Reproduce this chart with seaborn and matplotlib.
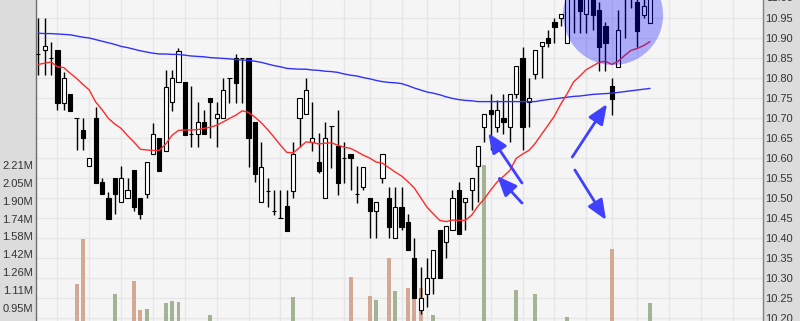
import numpy as np
import matplotlib
matplotlib.use("Agg")
import matplotlib.pyplot as plt
import matplotlib.transforms as mtransforms
from matplotlib.collections import LineCollection
from matplotlib.patches import Ellipse
import seaborn as sns

# ---------------- data ----------------
opens = [10.86, 10.869, 10.849, 10.87, 10.738, 10.759, 10.699, 10.67, 10.58, 10.699,
         10.539, 10.499, 10.549, 10.489, 10.499, 10.57, 10.499, 10.509, 10.61, 10.649,
         10.618, 10.739, 10.789, 10.791, 10.659, 10.659, 10.689, 10.749, 10.699, 10.699,
         10.799, 10.849, 10.849, 10.849, 10.689, 10.489, 10.518, 10.468, 10.449, 10.481,
         10.518, 10.699, 10.709, 10.64, 10.591, 10.499, 10.68, 10.63, 10.599, 10.61,
         10.509, 10.528, 10.499, 10.468, 10.549, 10.499, 10.399, 10.478, 10.441, 10.349,
         10.219, 10.259, 10.299, 10.42, 10.389, 10.42, 10.52, 10.489, 10.52, 10.581,
         10.678, 10.72, 10.678, 10.701, 10.678, 10.759, 10.849, 10.739, 10.81, 10.88,
         10.899, 10.939, 10.949, 10.888, 11.01, 11.01, 10.959, 11.01, 10.97, 10.93,
         10.78, 10.828, 11.01, 11.01, 10.991, 10.957, 10.938]
highs = [10.949, 10.949, 10.891, 10.87, 10.816, 10.759, 10.699, 10.699, 10.599, 10.728,
         10.55, 10.516, 10.549, 10.58, 10.549, 10.57, 10.499, 10.589, 10.688, 10.649,
         10.82, 10.82, 10.875, 10.791, 10.78, 10.741, 10.72, 10.749, 10.741, 10.799,
         10.799, 10.86, 10.849, 10.849, 10.689, 10.641, 10.549, 10.52, 10.52, 10.52,
         10.64, 10.749, 10.799, 10.739, 10.662, 10.689, 10.68, 10.72, 10.639, 10.61,
         10.58, 10.578, 10.499, 10.489, 10.609, 10.528, 10.528, 10.528, 10.46, 10.399,
         10.328, 10.349, 10.37, 10.42, 10.43, 10.52, 10.539, 10.499, 10.549, 10.63,
         10.709, 10.76, 10.745, 10.76, 10.76, 10.83, 10.878, 10.799, 10.87, 10.889,
         10.92, 10.949, 10.959, 11.0, 11.04, 11.02, 11.02, 11.02, 10.99, 10.94,
         10.799, 10.97, 11.04, 11.04, 11.0, 11.0, 11.02]
lows = [10.807, 10.807, 10.807, 10.72, 10.72, 10.718, 10.62, 10.62, 10.58, 10.538,
        10.509, 10.448, 10.459, 10.489, 10.499, 10.467, 10.448, 10.499, 10.61, 10.568,
        10.618, 10.718, 10.789, 10.657, 10.628, 10.628, 10.659, 10.649, 10.628, 10.699,
        10.737, 10.738, 10.737, 10.578, 10.54, 10.489, 10.478, 10.457, 10.449, 10.418,
        10.499, 10.628, 10.709, 10.617, 10.562, 10.499, 10.574, 10.507, 10.538, 10.52,
        10.487, 10.52, 10.399, 10.399, 10.538, 10.399, 10.399, 10.42, 10.37, 10.249,
        10.21, 10.228, 10.259, 10.299, 10.349, 10.42, 10.409, 10.42, 10.47, 10.489,
        10.641, 10.62, 10.666, 10.659, 10.639, 10.75, 10.62, 10.678, 10.797, 10.799,
        10.878, 10.888, 10.93, 10.888, 10.912, 10.912, 10.912, 10.92, 10.818, 10.818,
        10.707, 10.828, 10.899, 10.975, 10.878, 10.95, 10.938]
closes = [10.86, 10.879, 10.849, 10.738, 10.799, 10.718, 10.699, 10.649, 10.599, 10.538,
          10.509, 10.448, 10.509, 10.549, 10.519, 10.478, 10.459, 10.589, 10.659, 10.568,
          10.778, 10.799, 10.868, 10.657, 10.659, 10.689, 10.659, 10.739, 10.709, 10.77,
          10.799, 10.788, 10.849, 10.649, 10.559, 10.578, 10.518, 10.468, 10.449, 10.418,
          10.609, 10.749, 10.77, 10.649, 10.568, 10.649, 10.68, 10.538, 10.599, 10.599,
          10.509, 10.578, 10.468, 10.489, 10.609, 10.428, 10.478, 10.428, 10.37, 10.249,
          10.249, 10.299, 10.37, 10.299, 10.43, 10.499, 10.409, 10.499, 10.549, 10.63,
          10.709, 10.709, 10.72, 10.689, 10.76, 10.83, 10.678, 10.749, 10.87, 10.889,
          10.888, 10.928, 10.959, 11.0, 11.03, 10.968, 11.01, 10.957, 10.878, 10.888,
          10.747, 10.92, 11.03, 11.03, 10.918, 10.98, 11.01]
# volume in millions (0.70 = below the visible part of the panel)
volumes = [0.70, 0.70, 0.70, 0.70, 0.70, 0.70, 1.160, 1.558, 0.70, 0.70,
           0.70, 0.70, 1.072, 0.70, 0.70, 1.187, 0.930, 0.939, 0.70, 0.70,
           0.992, 1.010, 1.001, 0.70, 0.70, 0.70, 0.70, 0.886, 0.70, 0.70,
           0.70, 0.70, 0.70, 0.70, 0.70, 0.70, 0.70, 0.70, 0.70, 0.70,
           1.045, 0.70, 0.70, 0.70, 0.70, 0.70, 0.70, 0.70, 0.70, 1.222,
           0.70, 0.70, 1.054, 1.019, 0.70, 1.390, 1.098, 0.70, 1.127, 1.127,
           1.127, 0.70, 0.886, 0.70, 0.70, 0.70, 0.70, 0.70, 0.70, 0.70,
           2.211, 0.70, 0.70, 0.70, 0.70, 1.107, 0.70, 0.70, 1.072, 0.70,
           0.70, 0.70, 0.70, 0.871, 0.70, 0.70, 0.70, 0.70, 0.70, 0.70,
           1.467, 0.70, 0.70, 0.70, 0.70, 0.70, 0.990]
ma_short = [10.834, 10.837, 10.84, 10.828, 10.826, 10.812, 10.799, 10.784, 10.77, 10.74,
            10.721, 10.699, 10.685, 10.674, 10.656, 10.64, 10.622, 10.62, 10.619, 10.619,
            10.635, 10.657, 10.669, 10.67, 10.67, 10.671, 10.674, 10.677, 10.682, 10.69,
            10.699, 10.707, 10.718, 10.714, 10.702, 10.688, 10.671, 10.652, 10.632, 10.614,
            10.613, 10.626, 10.64, 10.639, 10.635, 10.637, 10.638, 10.632, 10.627, 10.624,
            10.616, 10.607, 10.6, 10.59, 10.587, 10.576, 10.565, 10.555, 10.541, 10.525,
            10.501, 10.477, 10.46, 10.444, 10.441, 10.445, 10.444, 10.444, 10.457, 10.48,
            10.498, 10.52, 10.54, 10.554, 10.569, 10.599, 10.61, 10.619, 10.637, 10.66,
            10.682, 10.705, 10.735, 10.761, 10.79, 10.805, 10.821, 10.83, 10.839, 10.842,
            10.834, 10.842, 10.856, 10.869, 10.874, 10.881, 10.891]
ma_long = [10.912, 10.911, 10.911, 10.91, 10.909, 10.908, 10.905, 10.902, 10.9, 10.896,
           10.892, 10.888, 10.884, 10.879, 10.876, 10.872, 10.868, 10.865, 10.862, 10.86,
           10.86, 10.859, 10.859, 10.857, 10.855, 10.854, 10.853, 10.851, 10.85, 10.849,
           10.848, 10.846, 10.845, 10.844, 10.842, 10.839, 10.835, 10.831, 10.828, 10.824,
           10.823, 10.822, 10.822, 10.82, 10.819, 10.817, 10.816, 10.814, 10.81, 10.807,
           10.805, 10.801, 10.798, 10.794, 10.791, 10.789, 10.788, 10.786, 10.781, 10.775,
           10.77, 10.765, 10.762, 10.758, 10.753, 10.749, 10.746, 10.744, 10.743, 10.741,
           10.741, 10.741, 10.741, 10.741, 10.741, 10.741, 10.741, 10.741, 10.741, 10.744,
           10.746, 10.748, 10.75, 10.752, 10.754, 10.755, 10.757, 10.759, 10.76, 10.761,
           10.762, 10.764, 10.766, 10.768, 10.77, 10.772, 10.774]
week_starts = [3, 8, 13, 18, 23, 28, 33, 38, 43, 48, 52, 57, 61, 66, 71, 76, 81, 86,
               90, 94, 99, 104, 109]
price_ticks = [10.20, 10.25, 10.30, 10.35, 10.40, 10.45, 10.50, 10.55, 10.60, 10.65,
               10.70, 10.75, 10.80, 10.85, 10.90, 10.95]
top_price_label = 11.00
vol_tick_values = [0.948, 1.106, 1.264, 1.422, 1.580, 1.737, 1.896, 2.053, 2.211]
vol_tick_labels = ["0.95M", "1.11M", "1.26M", "1.42M", "1.58M", "1.74M", "1.90M",
                   "2.05M", "2.21M"]

# annotation overlay (highlight circle + arrows), in data units
circle_center = (90.2, 10.9575)
circle_size = (15.7, 0.25)
arrows = [((75.9, 10.5375), (70.6, 10.6625)),
          ((75.9, 10.4875), (72.0, 10.555)),
          ((83.8, 10.6025), (89.25, 10.735)),
          ((84.2, 10.57), (89.1, 10.445))]

# ---------------- styling ----------------
sns.set_theme(style="white")
plt.rcParams["font.family"] = ["Liberation Sans", "DejaVu Sans"]

BG = "#f5f5f5"
PANEL = "#dcdcdc"
GRID = "#e6e6e6"
TXT = "#333333"

fig = plt.figure(figsize=(8.0, 3.21), dpi=100, facecolor=PANEL)
ax_v = fig.add_axes([35.5 / 800, 0.0, 727 / 800, 1.0])
ax_v.set_facecolor(BG)
ax_p = ax_v.twinx()

n = len(closes)
x = np.arange(n)
o = np.array(opens); c = np.array(closes); h = np.array(highs); l = np.array(lows)
v = np.array(volumes)

# limits
ax_v.set_xlim(-0.44, 113.65)
ax_p.set_ylim(10.1925, 10.995)
ax_v.set_ylim(0.833, 3.669)

# grid (kept below the volume bars)
ax_v.set_axisbelow(True)
ax_v.set_xticks(week_starts)
ax_v.tick_params(axis="x", length=0, labelbottom=False)
ax_v.grid(axis="x", color=GRID, lw=1.0)
ax_v.grid(axis="y", visible=False)
blend = mtransforms.blended_transform_factory(ax_v.transAxes, ax_p.transData)
segs = [[(0, p), (1, p)] for p in price_ticks]
ax_v.add_collection(LineCollection(segs, colors=GRID, linewidths=1.0,
                                   transform=blend, zorder=0.5), autolim=False)

# volume bars
prev = np.concatenate([[c[0]], c[:-1]])
vcolors = np.where(c > prev, "#a4b395", "#d3a894")
ax_v.bar(x, v, width=0.62, color=vcolors, linewidth=0, zorder=2)

# candles
ax_p.vlines(x, l, h, color="black", lw=1.0, zorder=2)
body_bottom = np.minimum(o, c)
body_h = np.abs(c - o)
face = np.where(c > o, "white", "black")
ax_p.bar(x, body_h, bottom=body_bottom, width=0.66, color=face,
         edgecolor="black", linewidth=0.8, zorder=3)

# moving averages
sns.lineplot(x=x, y=ma_long, ax=ax_p, color="#3030ff", lw=1.0, zorder=4)
sns.lineplot(x=x, y=ma_short, ax=ax_p, color="#ff2b2b", lw=1.0, zorder=4)

# highlight circle
ax_p.add_patch(Ellipse(circle_center, circle_size[0], circle_size[1],
                       facecolor=(0.0, 0.0, 1.0, 0.3), edgecolor="none", zorder=5))
for tail, head in arrows:
    ax_p.annotate("", xy=head, xytext=tail, zorder=6,
                  arrowprops=dict(arrowstyle="-|>,head_length=0.6,head_width=0.25",
                                  color="#4040ff", lw=2.0, mutation_scale=20,
                                  shrinkA=0, shrinkB=0))

# axes / ticks
ax_p.set_xlim(-0.44, 113.65)
ax_p.set_ylim(10.1925, 10.995)
ax_p.set_yticks(price_ticks, labels=[f"{p:.2f}" for p in price_ticks])
ax_p.tick_params(axis="y", length=0, pad=2.0, labelsize=8, labelcolor=TXT)
ax_p.text(1.0 + 3.5 / 727, top_price_label, f"{top_price_label:.2f}",
          transform=mtransforms.blended_transform_factory(ax_p.transAxes, ax_p.transData),
          ha="left", va="center", fontsize=8, color=TXT, clip_on=False)
ax_v.set_yticks(vol_tick_values, labels=vol_tick_labels)
ax_v.tick_params(axis="y", length=0, pad=1.8, labelsize=8, labelcolor=TXT)
ax_p.set_xlabel(""); ax_p.set_ylabel(""); ax_v.set_ylabel("")

for sp in ax_v.spines.values():
    sp.set_visible(False)
for sp in ax_p.spines.values():
    sp.set_visible(False)
ax_v.spines["left"].set_visible(True)
ax_v.spines["left"].set_color("#6e6e6e")
ax_v.spines["left"].set_linewidth(1.0)
ax_p.spines["right"].set_visible(True)
ax_p.spines["right"].set_color("#808080")
ax_p.spines["right"].set_linewidth(1.0)

fig.savefig("out.png", dpi=100, facecolor=fig.get_facecolor())
